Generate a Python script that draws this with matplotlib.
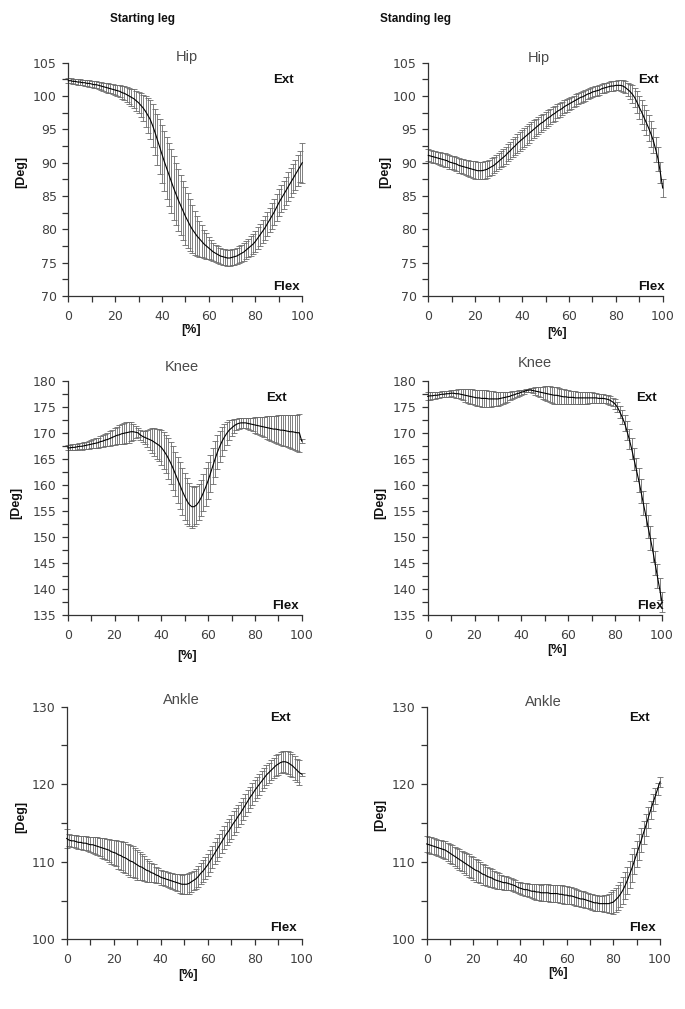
import numpy as np
import matplotlib
matplotlib.use("Agg")
import matplotlib.pyplot as plt
from matplotlib.ticker import MultipleLocator

# percent of movement, 0..100
pct = np.arange(0, 101)

# ---- Starting leg, hip ----
start_hip_mean = [
    102.3, 102.3, 102.2, 102.2, 102.1, 102.1, 102.0, 102.0, 101.9, 101.9, 101.8,
    101.7, 101.7, 101.6, 101.5, 101.4, 101.3, 101.2, 101.1, 101.0, 100.9,
    100.8, 100.7, 100.5, 100.4, 100.2, 100.0, 99.8, 99.6, 99.3, 99.0,
    98.6, 98.2, 97.7, 97.1, 96.5, 95.6, 94.6, 93.5, 92.4, 91.3,
    90.2, 89.2, 88.2, 87.2, 86.2, 85.3, 84.4, 83.6, 82.8, 82.0,
    81.3, 80.6, 80.0, 79.5, 79.0, 78.6, 78.2, 77.8, 77.5, 77.2,
    76.9, 76.6, 76.4, 76.2, 76.0, 75.9, 75.8, 75.7, 75.7, 75.8,
    75.9, 76.0, 76.2, 76.4, 76.6, 76.9, 77.2, 77.5, 77.8, 78.2,
    78.7, 79.2, 79.7, 80.2, 80.8, 81.4, 82.0, 82.6, 83.3, 84.0,
    84.6, 85.2, 85.8, 86.4, 87.0, 87.6, 88.2, 88.8, 89.4, 90.0]
start_hip_sd = [
    0.35, 0.35, 0.35, 0.35, 0.4, 0.4, 0.4, 0.45, 0.45, 0.5, 0.5,
    0.5, 0.55, 0.55, 0.6, 0.6, 0.65, 0.7, 0.7, 0.75, 0.8,
    0.85, 0.9, 1.0, 1.05, 1.1, 1.2, 1.3, 1.4, 1.5, 1.6,
    1.8, 2.0, 2.3, 2.6, 2.9, 3.2, 3.5, 3.8, 4.1, 4.3,
    4.5, 4.6, 4.7, 4.8, 4.8, 4.7, 4.6, 4.5, 4.4, 4.3,
    4.1, 3.9, 3.6, 3.3, 3.0, 2.7, 2.4, 2.1, 1.9, 1.7,
    1.5, 1.4, 1.3, 1.25, 1.2, 1.2, 1.2, 1.2, 1.2, 1.2,
    1.2, 1.2, 1.25, 1.3, 1.3, 1.35, 1.4, 1.45, 1.5, 1.55,
    1.6, 1.65, 1.7, 1.75, 1.8, 1.85, 1.9, 1.95, 2.0, 2.0,
    2.05, 2.1, 2.1, 2.15, 2.2, 2.2, 2.25, 2.3, 2.3, 3.0]

# ---- Standing leg, hip ----
stand_hip_mean = [
    91.1, 91.0, 90.9, 90.8, 90.7, 90.6, 90.5, 90.4, 90.3, 90.1, 90.0,
    89.9, 89.8, 89.6, 89.5, 89.4, 89.3, 89.2, 89.1, 89.0, 88.9,
    88.8, 88.8, 88.8, 88.9, 89.0, 89.2, 89.4, 89.6, 89.9, 90.2,
    90.5, 90.8, 91.1, 91.5, 91.8, 92.2, 92.5, 92.9, 93.2, 93.5,
    93.8, 94.1, 94.4, 94.7, 95.0, 95.3, 95.6, 95.9, 96.1, 96.4,
    96.7, 96.9, 97.2, 97.4, 97.7, 97.9, 98.1, 98.4, 98.6, 98.8,
    99.0, 99.2, 99.4, 99.6, 99.8, 99.9, 100.1, 100.3, 100.4, 100.6,
    100.7, 100.8, 100.9, 101.1, 101.2, 101.3, 101.4, 101.5, 101.5, 101.6,
    101.6, 101.6, 101.5, 101.3, 101.0, 100.7, 100.3, 99.8, 99.1, 98.3,
    97.6, 96.8, 96.0, 95.2, 94.3, 93.3, 92.0, 90.6, 88.5, 86.2]
stand_hip_sd = [
    0.9, 0.9, 0.9, 0.9, 0.95, 0.95, 0.95, 1.0, 1.0, 1.0, 1.0,
    1.05, 1.05, 1.1, 1.1, 1.15, 1.15, 1.2, 1.2, 1.25, 1.3,
    1.3, 1.3, 1.3, 1.3, 1.25, 1.25, 1.25, 1.2, 1.2, 1.2,
    1.2, 1.25, 1.25, 1.3, 1.3, 1.35, 1.35, 1.4, 1.4, 1.4,
    1.4, 1.4, 1.4, 1.35, 1.35, 1.3, 1.3, 1.25, 1.25, 1.2,
    1.2, 1.15, 1.1, 1.1, 1.05, 1.0, 1.0, 0.95, 0.95, 0.9,
    0.9, 0.85, 0.85, 0.8, 0.8, 0.8, 0.8, 0.75, 0.75, 0.75,
    0.75, 0.75, 0.7, 0.7, 0.7, 0.7, 0.7, 0.7, 0.7, 0.7,
    0.75, 0.8, 0.85, 0.9, 1.0, 1.1, 1.3, 1.45, 1.6, 1.75,
    1.8, 1.85, 1.9, 1.9, 1.9, 1.9, 1.9, 1.8, 1.6, 1.4]

# ---- Starting leg, knee ----
start_knee_mean = [
    167.1, 167.1, 167.2, 167.2, 167.3, 167.4, 167.4, 167.5, 167.6, 167.7, 167.8,
    167.9, 168.0, 168.1, 168.3, 168.4, 168.6, 168.7, 168.9, 169.1, 169.3,
    169.5, 169.6, 169.8, 169.9, 170.0, 170.1, 170.2, 170.2, 170.1, 170.0,
    169.6, 169.3, 169.1, 168.9, 168.7, 168.5, 168.2, 167.9, 167.6, 167.2,
    166.6, 165.9, 165.1, 164.2, 163.2, 162.1, 161.0, 159.9, 158.8, 157.8,
    156.9, 156.2, 155.8, 155.8, 156.1, 156.7, 157.5, 158.5, 159.6, 160.8,
    162.2, 163.6, 165.0, 166.3, 167.4, 168.4, 169.2, 169.9, 170.5, 170.9,
    171.3, 171.6, 171.8, 171.9, 171.9, 171.9, 171.8, 171.7, 171.6, 171.5,
    171.4, 171.3, 171.2, 171.1, 171.0, 170.9, 170.8, 170.7, 170.7, 170.6,
    170.5, 170.5, 170.4, 170.3, 170.2, 170.2, 170.1, 170.0, 170.0, 168.4]
start_knee_sd = [
    0.5, 0.5, 0.55, 0.55, 0.6, 0.6, 0.65, 0.65, 0.7, 0.75, 0.8,
    0.85, 0.9, 0.95, 1.0, 1.1, 1.2, 1.3, 1.4, 1.5, 1.6,
    1.7, 1.8, 1.9, 2.0, 2.0, 2.0, 1.8, 1.5, 1.2, 0.9,
    0.9, 1.0, 1.3, 1.7, 2.1, 2.4, 2.7, 2.9, 3.1, 3.3,
    3.5, 3.7, 3.9, 4.0, 4.2, 4.3, 4.4, 4.5, 4.5, 4.5,
    4.4, 4.2, 4.0, 3.8, 3.6, 3.5, 3.5, 3.5, 3.6, 3.6,
    3.6, 3.5, 3.4, 3.2, 3.0, 2.8, 2.5, 2.2, 1.9, 1.5,
    1.3, 1.1, 1.0, 1.0, 1.0, 1.0, 1.1, 1.2, 1.3, 1.5,
    1.6, 1.7, 1.9, 2.0, 2.2, 2.3, 2.4, 2.5, 2.6, 2.8,
    2.9, 3.0, 3.0, 3.1, 3.2, 3.3, 3.4, 3.5, 3.6, 0.4]

# ---- Standing leg, knee ----
stand_knee_mean = [
    177.0, 177.1, 177.1, 177.2, 177.2, 177.3, 177.4, 177.4, 177.5, 177.5, 177.6,
    177.6, 177.5, 177.5, 177.4, 177.3, 177.2, 177.1, 177.0, 176.9, 176.8,
    176.7, 176.7, 176.6, 176.6, 176.6, 176.5, 176.5, 176.5, 176.5, 176.5,
    176.6, 176.7, 176.8, 176.9, 177.0, 177.2, 177.3, 177.5, 177.6, 177.8,
    177.9, 178.1, 178.2, 178.2, 178.1, 178.0, 177.9, 177.8, 177.7, 177.6,
    177.5, 177.4, 177.3, 177.2, 177.2, 177.1, 177.0, 176.9, 176.9, 176.8,
    176.8, 176.8, 176.7, 176.7, 176.7, 176.7, 176.7, 176.7, 176.7, 176.7,
    176.7, 176.7, 176.6, 176.6, 176.6, 176.5, 176.4, 176.2, 175.9, 175.5,
    174.9, 174.0, 173.0, 171.9, 170.4, 168.8, 167.0, 165.0, 163.0, 161.0,
    158.8, 156.5, 154.3, 152.0, 149.8, 147.5, 145.0, 142.5, 140.0, 137.5]
stand_knee_sd = [
    0.8, 0.75, 0.7, 0.65, 0.6, 0.6, 0.55, 0.55, 0.55, 0.55, 0.6,
    0.7, 0.8, 0.9, 1.0, 1.1, 1.2, 1.3, 1.4, 1.45, 1.5,
    1.55, 1.6, 1.6, 1.6, 1.6, 1.55, 1.5, 1.45, 1.4, 1.3,
    1.2, 1.1, 1.0, 0.9, 0.8, 0.75, 0.7, 0.6, 0.55, 0.5,
    0.4, 0.35, 0.3, 0.4, 0.55, 0.7, 0.85, 1.0, 1.15, 1.3,
    1.4, 1.5, 1.55, 1.6, 1.6, 1.55, 1.5, 1.45, 1.4, 1.35,
    1.3, 1.3, 1.25, 1.2, 1.2, 1.15, 1.1, 1.1, 1.05, 1.05,
    1.0, 0.95, 0.9, 0.85, 0.8, 0.8, 0.8, 0.85, 0.85, 0.9,
    1.0, 1.2, 1.4, 1.6, 1.8, 1.9, 2.0, 2.1, 2.2, 2.3,
    2.3, 2.3, 2.3, 2.3, 2.3, 2.3, 2.3, 2.3, 2.2, 2.0]

# ---- Starting leg, ankle ----
start_ankle_mean = [
    113.0, 112.8, 112.7, 112.7, 112.6, 112.5, 112.5, 112.4, 112.4, 112.3, 112.2,
    112.2, 112.1, 112.0, 111.9, 111.8, 111.7, 111.6, 111.5, 111.3, 111.2,
    111.1, 110.9, 110.8, 110.6, 110.5, 110.3, 110.1, 110.0, 109.8, 109.6,
    109.4, 109.3, 109.1, 108.9, 108.8, 108.6, 108.5, 108.3, 108.2, 108.0,
    107.9, 107.8, 107.7, 107.6, 107.5, 107.4, 107.3, 107.2, 107.1, 107.1,
    107.1, 107.2, 107.4, 107.6, 107.8, 108.1, 108.5, 108.8, 109.2, 109.6,
    110.1, 110.6, 111.1, 111.6, 112.1, 112.6, 113.1, 113.6, 114.0, 114.5,
    115.0, 115.4, 115.9, 116.3, 116.8, 117.3, 117.8, 118.3, 118.7, 119.2,
    119.6, 120.0, 120.4, 120.8, 121.2, 121.5, 121.8, 122.1, 122.4, 122.6,
    122.8, 122.9, 122.9, 122.8, 122.6, 122.4, 122.1, 121.8, 121.5, 121.3]
start_ankle_sd = [
    1.2, 0.8, 0.8, 0.8, 0.85, 0.85, 0.85, 0.9, 0.9, 0.95, 1.0,
    1.05, 1.1, 1.15, 1.2, 1.3, 1.35, 1.4, 1.5, 1.55, 1.65,
    1.7, 1.8, 1.85, 1.95, 2.0, 2.05, 2.05, 2.0, 1.95, 1.9,
    1.8, 1.7, 1.6, 1.45, 1.35, 1.25, 1.15, 1.05, 1.0, 0.95,
    0.95, 0.95, 0.95, 1.0, 1.0, 1.05, 1.1, 1.2, 1.25, 1.3,
    1.3, 1.3, 1.25, 1.25, 1.25, 1.3, 1.35, 1.4, 1.4, 1.45,
    1.45, 1.45, 1.45, 1.45, 1.45, 1.5, 1.5, 1.5, 1.5, 1.5,
    1.5, 1.5, 1.45, 1.45, 1.45, 1.45, 1.4, 1.4, 1.4, 1.4,
    1.35, 1.35, 1.3, 1.3, 1.3, 1.3, 1.3, 1.3, 1.35, 1.35,
    1.35, 1.35, 1.4, 1.45, 1.5, 1.5, 1.5, 1.5, 1.6, 0.2]

# ---- Standing leg, ankle ----
stand_ankle_mean = [
    112.3, 112.2, 112.1, 112.0, 111.9, 111.8, 111.7, 111.6, 111.5, 111.3, 111.1,
    110.9, 110.7, 110.5, 110.3, 110.1, 109.9, 109.7, 109.5, 109.3, 109.1,
    108.9, 108.8, 108.6, 108.4, 108.3, 108.1, 108.0, 107.9, 107.7, 107.6,
    107.5, 107.4, 107.3, 107.3, 107.2, 107.1, 107.0, 106.9, 106.7, 106.6,
    106.5, 106.4, 106.4, 106.3, 106.2, 106.2, 106.1, 106.1, 106.0, 106.0,
    106.0, 106.0, 105.9, 105.9, 105.9, 105.9, 105.8, 105.8, 105.7, 105.7,
    105.6, 105.6, 105.5, 105.4, 105.3, 105.2, 105.2, 105.1, 105.0, 104.9,
    104.8, 104.7, 104.7, 104.6, 104.6, 104.6, 104.6, 104.6, 104.7, 104.8,
    105.1, 105.4, 105.8, 106.3, 106.9, 107.6, 108.4, 109.2, 110.1, 111.0,
    111.9, 112.8, 113.8, 114.7, 115.7, 116.7, 117.6, 118.5, 119.4, 120.3]
stand_ankle_sd = [
    1.05, 1.05, 1.05, 1.05, 1.05, 1.05, 1.1, 1.1, 1.15, 1.15, 1.2,
    1.2, 1.25, 1.25, 1.3, 1.35, 1.4, 1.4, 1.45, 1.45, 1.5,
    1.45, 1.45, 1.4, 1.35, 1.3, 1.25, 1.2, 1.15, 1.1, 1.05,
    1.0, 0.95, 0.9, 0.9, 0.85, 0.8, 0.8, 0.75, 0.75, 0.75,
    0.75, 0.8, 0.8, 0.85, 0.9, 0.95, 1.0, 1.0, 1.05, 1.1,
    1.1, 1.1, 1.15, 1.15, 1.15, 1.15, 1.15, 1.15, 1.15, 1.15,
    1.1, 1.1, 1.1, 1.05, 1.05, 1.05, 1.05, 1.0, 1.0, 1.0,
    1.0, 1.0, 1.0, 1.0, 1.0, 1.05, 1.1, 1.2, 1.35, 1.5,
    1.55, 1.6, 1.65, 1.7, 1.75, 1.75, 1.75, 1.75, 1.7, 1.7,
    1.65, 1.6, 1.5, 1.4, 1.3, 1.2, 1.1, 1.0, 0.8, 0.6]

W, H = 685, 1009


def fx(x, y):
    # pixel position (from top-left) -> figure fraction
    return x / W, 1 - y / H


fig = plt.figure(figsize=(W / 100, H / 100), dpi=100)

# (title, mean, sd, ylim, ymajor, yminor, axes box [left, top, right, bottom] in px,
#  title pos, Ext pos, Flex pos, ylabel pos, xlabel pos)
panels = [
    ("Hip", start_hip_mean, start_hip_sd, (70, 105), 5, 2.5, (68.3, 62.7, 302.3, 296),
     (186.7, 57), (283, 80), (286, 287.3), (21.7, 171.7), (191, 330)),
    ("Hip", stand_hip_mean, stand_hip_sd, (70, 105), 5, 2.5, (428.3, 62.7, 662.7, 296),
     (539, 58.3), (648.3, 80), (651.7, 287.3), (385, 171.7), (556.7, 333.3)),
    ("Knee", start_knee_mean, start_knee_sd, (135, 180), 5, 2.5, (67.7, 380.7, 301.7, 615),
     (181.7, 366.7), (276.7, 398.3), (285, 606), (16.7, 503.3), (187, 656)),
    ("Knee", stand_knee_mean, stand_knee_sd, (135, 180), 5, 2.5, (427.7, 380.7, 662, 615),
     (535, 363.3), (646.7, 398.3), (650, 606), (380, 503.3), (557, 650)),
    ("Ankle", start_ankle_mean, start_ankle_sd, (100, 130), 10, 5, (66.7, 706.7, 301.7, 939.3),
     (181.7, 700), (280, 718.3), (283.3, 928.3), (21.7, 816.7), (188, 975)),
    ("Ankle", stand_ankle_mean, stand_ankle_sd, (100, 130), 10, 5, (426.7, 706.7, 660, 939.3),
     (543.3, 701.7), (639, 718.3), (642.7, 928.3), (380, 815), (558.3, 972.7)),
]

axis_col = "#333333"
bold_font = ["Liberation Sans", "DejaVu Sans"]

for (title, mean, sd, ylim, ymaj, ymin, box, tpos, epos, fpos, ylpos, xlpos) in panels:
    l, t, r, b = box
    ax = fig.add_axes([l / W, 1 - b / H, (r - l) / W, (b - t) / H])
    line, caps, bars = ax.errorbar(pct, mean, yerr=sd, fmt='-', color='black', lw=0.8,
                                   ecolor='#6a6a6a', elinewidth=0.6, capsize=2.4,
                                   capthick=0.6, clip_on=False)
    for c in caps:
        c.set_color('#2a2a2a')
    line.set_zorder(5)
    ax.set_xlim(0, 100)
    ax.set_ylim(*ylim)
    ax.xaxis.set_major_locator(MultipleLocator(20))
    ax.xaxis.set_minor_locator(MultipleLocator(10))
    ax.yaxis.set_major_locator(MultipleLocator(ymaj))
    ax.yaxis.set_minor_locator(MultipleLocator(ymin))
    for s in ("top", "right"):
        ax.spines[s].set_visible(False)
    for s in ("left", "bottom"):
        ax.spines[s].set_color(axis_col)
        ax.spines[s].set_linewidth(0.9)
    ax.tick_params(which='both', direction='out', length=4.2, width=0.9,
                   color=axis_col, labelcolor='#404040', labelsize=9)
    ax.tick_params(axis='x', which='major', pad=6)
    ax.tick_params(axis='y', which='major', pad=4)
    ax.set_facecolor('none')

    fig.text(*fx(*tpos), title, ha='center', va='center', fontsize=10.5,
             color='#4a4a4a', family=["Liberation Sans", "DejaVu Sans"])
    fig.text(*fx(*epos), "Ext", ha='center', va='center', fontsize=9.5,
             fontweight='bold', color='#111111', family=bold_font)
    fig.text(*fx(*fpos), "Flex", ha='center', va='center', fontsize=9.5,
             fontweight='bold', color='#111111', family=bold_font)
    fig.text(*fx(*ylpos), "[Deg]", ha='center', va='center', fontsize=9,
             fontweight='bold', rotation=90, color='#111111', family=bold_font)
    fig.text(*fx(*xlpos), "[%]", ha='center', va='center', fontsize=9,
             fontweight='bold', color='#111111', family=bold_font)

fig.text(*fx(142.7, 19.3), "Starting leg", ha='center', va='center', fontsize=8.5,
         fontweight='bold', color='#111111', family=["Liberation Sans Narrow", "Liberation Sans"])
fig.text(*fx(415, 18.7), "Standing leg", ha='center', va='center', fontsize=8.5,
         fontweight='bold', color='#111111', family=["Liberation Sans Narrow", "Liberation Sans"])

fig.savefig("out.png", dpi=100, facecolor='white')
